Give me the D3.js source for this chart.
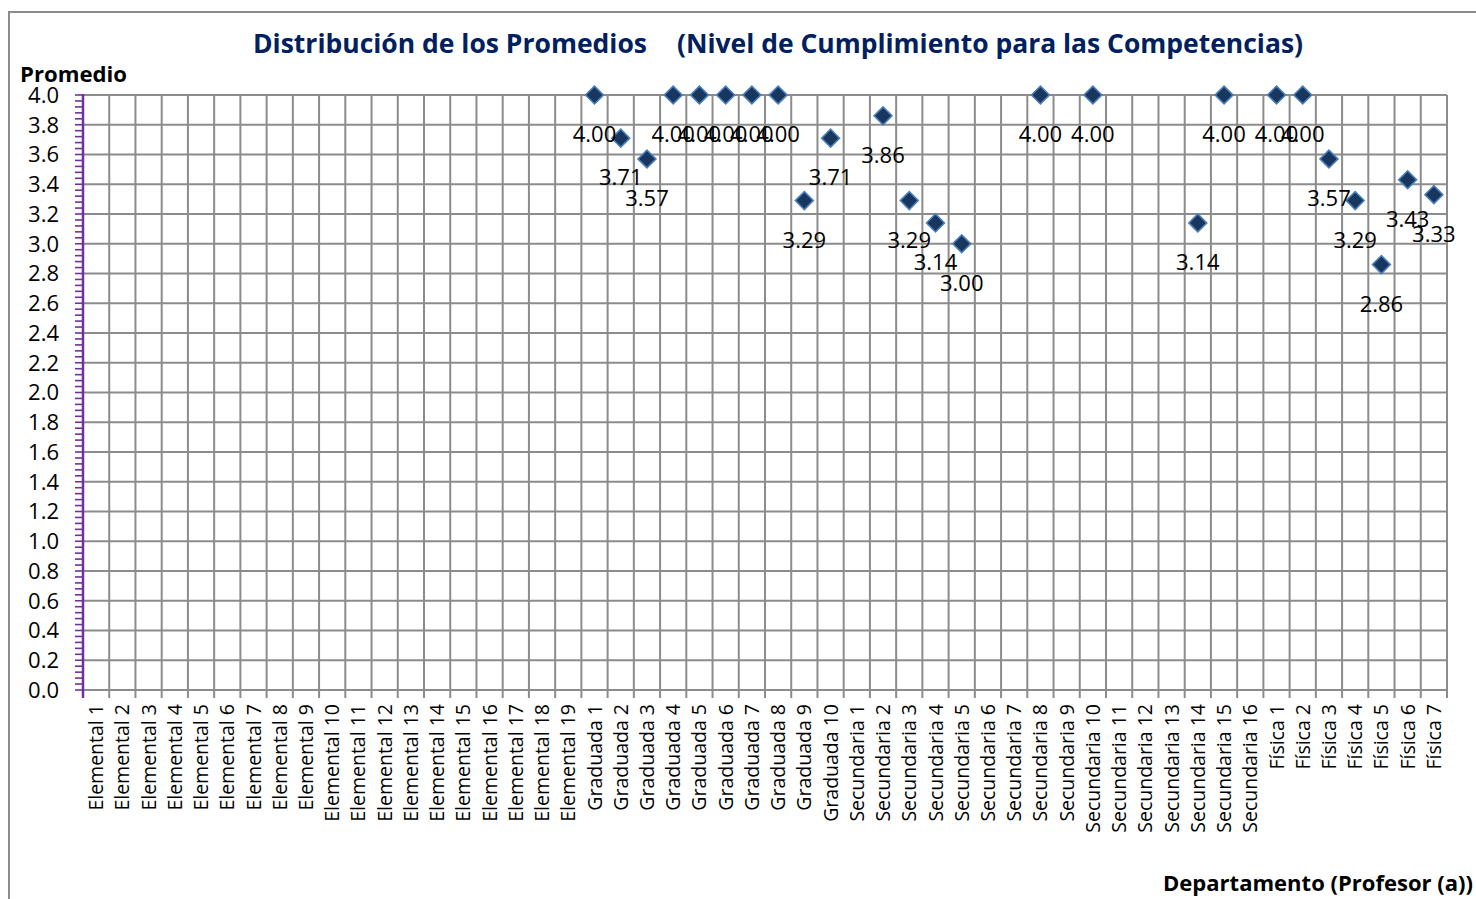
<!DOCTYPE html>
<html>
<head>
<meta charset="utf-8">
<script src="https://cdn.jsdelivr.net/npm/d3@7"></script>
<style>
  body { margin: 0; background: #fff; }
  svg text { font-family: "Open Sans", "DejaVu Sans", sans-serif; }
</style>
</head>
<body>
<div id="chart"></div>
<script>
// Category groups (department + professor number)
const elemental = d3.range(1, 20).map(i => "Elemental " + i);
const graduada = d3.range(1, 11).map(i => "Graduada " + i);
const secundaria = d3.range(1, 17).map(i => "Secundaria " + i);
const fisica = d3.range(1, 8).map(i => "Física " + i);
const categories = [...elemental, ...graduada, ...secundaria, ...fisica];

// Averages (null = no point)
const elementalValues = Array(19).fill(null);
const graduadaValues = [4.00, 3.71, 3.57, 4.00, 4.00, 4.00, 4.00, 4.00, 3.29, 3.71];
const secundariaValues = [null, 3.86, 3.29, 3.14, 3.00, null, null, 4.00, null, 4.00,
                          null, null, null, 3.14, 4.00, null];
const fisicaValues = [4.00, 4.00, 3.57, 3.29, 2.86, 3.43, 3.33];
const values = [...elementalValues, ...graduadaValues, ...secundariaValues, ...fisicaValues];

const yTicks = d3.range(0, 4.0001, 0.2);

const width = 1476, height = 899;
const margin = { top: 95, right: 29, bottom: 209, left: 83 };

const svg = d3.select("#chart").append("svg")
    .attr("width", width)
    .attr("height", height);

// chart frame
svg.append("rect")
    .attr("x", 9).attr("y", 12)
    .attr("width", 1500).attr("height", 920)
    .attr("fill", "none")
    .attr("stroke", "#8c8c8c")
    .attr("stroke-width", 2);

const x = d3.scaleBand()
    .domain(categories)
    .range([margin.left, width - margin.right])
    .padding(0);

const y = d3.scaleLinear()
    .domain([0, 4])
    .range([height - margin.bottom, margin.top]);

const grid = svg.append("g").attr("stroke", "#8c8c8c").attr("stroke-width", 2);

// horizontal gridlines
grid.selectAll(".h")
    .data(yTicks)
    .join("line")
    .attr("x1", margin.left)
    .attr("x2", width - margin.right)
    .attr("y1", d => y(d))
    .attr("y2", d => y(d));

// vertical gridlines at category boundaries, with tick below the axis
const bounds = categories.map(c => x(c)).concat([x(categories[categories.length - 1]) + x.bandwidth()]);
grid.selectAll(".v")
    .data(bounds.slice(1))
    .join("line")
    .attr("x1", d => d)
    .attr("x2", d => d)
    .attr("y1", y(4))
    .attr("y2", y(0) + 8);

// y axis (purple) with minor ticks
const yAxis = svg.append("g").attr("stroke", "#7030a0");
yAxis.append("line")
    .attr("x1", margin.left).attr("x2", margin.left)
    .attr("y1", y(4) - 1).attr("y2", y(0) + 8)
    .attr("stroke-width", 2.5);
yAxis.selectAll(".minor")
    .data(d3.range(0, 4.0001, 0.04))
    .join("line")
    .attr("x1", margin.left - 8)
    .attr("x2", margin.left)
    .attr("y1", d => y(d))
    .attr("y2", d => y(d))
    .attr("stroke-width", 1.6);

// y tick labels
svg.append("g")
    .selectAll("text")
    .data(yTicks)
    .join("text")
    .attr("x", 59)
    .attr("y", d => y(d))
    .attr("dy", "0.36em")
    .attr("text-anchor", "end")
    .style("font-size", "22px")
    .attr("fill", "#000")
    .text(d => d.toFixed(1));

// category labels rotated
svg.append("g")
    .selectAll("text")
    .data(categories)
    .join("text")
    .attr("transform", d => `translate(${x(d) + x.bandwidth() / 2 + 7},${y(0) + 14}) rotate(-90)`)
    .attr("text-anchor", "end")
    .style("font-size", "19.5px")
    .attr("fill", "#000")
    .text(d => d);

// points
const pts = categories.map((c, i) => ({ cat: c, v: values[i] })).filter(d => d.v !== null);

svg.append("g")
    .selectAll("path")
    .data(pts)
    .join("path")
    .attr("d", d3.symbol().type(d3.symbolSquare).size(160))
    .attr("transform", d => `translate(${x(d.cat) + x.bandwidth() / 2},${y(d.v)}) rotate(45)`)
    .attr("fill", "#17375e")
    .attr("stroke", "#4a7ebb")
    .attr("stroke-width", 1.6);

// data labels below each point
svg.append("g")
    .selectAll("text")
    .data(pts)
    .join("text")
    .attr("x", d => x(d.cat) + x.bandwidth() / 2)
    .attr("y", d => y(d.v) + 47)
    .attr("text-anchor", "middle")
    .style("font-size", "22px")
    .attr("fill", "#000")
    .text(d => d.v.toFixed(2));

// titles
svg.append("text")
    .attr("x", 253).attr("y", 53)
    .attr("textLength", 394).attr("lengthAdjust", "spacingAndGlyphs")
    .style("font-size", "27px").style("font-weight", "bold")
    .attr("fill", "#002060")
    .text("Distribución de los Promedios");
svg.append("text")
    .attr("x", 677).attr("y", 53)
    .attr("textLength", 626).attr("lengthAdjust", "spacingAndGlyphs")
    .style("font-size", "27px").style("font-weight", "bold")
    .attr("fill", "#002060")
    .text("(Nivel de Cumplimiento para las Competencias)");

svg.append("text")
    .attr("x", 20).attr("y", 82)
    .attr("textLength", 107).attr("lengthAdjust", "spacingAndGlyphs")
    .style("font-size", "21px").style("font-weight", "bold")
    .attr("fill", "#000")
    .text("Promedio");

svg.append("text")
    .attr("x", 1163).attr("y", 891)
    .attr("textLength", 310).attr("lengthAdjust", "spacingAndGlyphs")
    .style("font-size", "21px").style("font-weight", "bold")
    .attr("fill", "#000")
    .text("Departamento (Profesor (a))");
</script>
</body>
</html>
